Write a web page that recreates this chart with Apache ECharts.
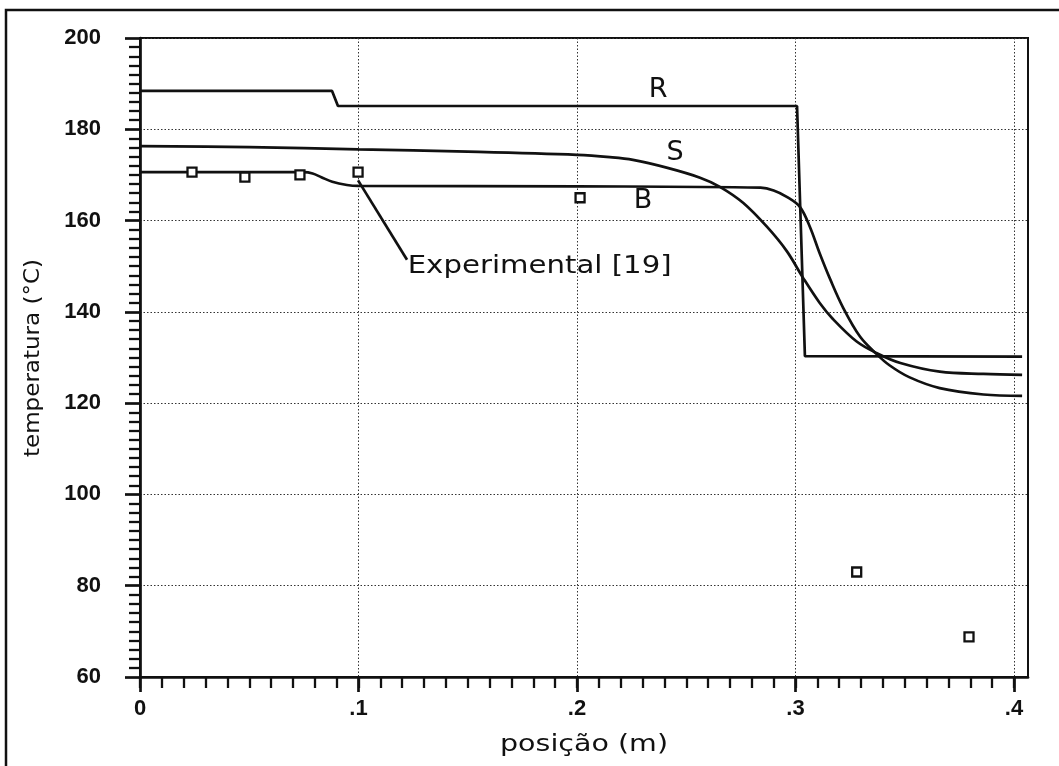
<!DOCTYPE html>
<html><head><meta charset="utf-8">
<script src="https://cdn.jsdelivr.net/npm/echarts@6.0.0/dist/echarts.min.js"></script>
<style>html,body{margin:0;padding:0;background:#fff}#c{width:1059px;height:766px}</style>
</head><body><div id="c"></div>
<script>
// ---- tick labels ----
const xTickValues = [0, 0.1, 0.2, 0.3, 0.4];
const xTickLabels = ['0', '.1', '.2', '.3', '.4'];
const yTickValues = [60, 80, 100, 120, 140, 160, 180, 200];

// ---- series R ----
const rX = [0, 0.0879, 0.0906, 0.3007, 0.3043, 0.4037];
const rY = [188.4, 188.4, 185.1, 185.1, 130.3, 130.2];

// ---- series S ----
const sX = [0, 0.05, 0.1, 0.15, 0.2, 0.215, 0.2256, 0.241, 0.2563, 0.2654, 0.276, 0.287, 0.296, 0.3034, 0.311, 0.317, 0.328, 0.337, 0.348, 0.366, 0.386, 0.4037];
const sY = [176.3, 176.1, 175.6, 175.1, 174.4, 173.9, 173.3, 171.6, 169.4, 167.4, 163.9, 158.6, 153.3, 147.5, 142.0, 138.5, 133.5, 131.0, 128.8, 126.9, 126.4, 126.2];

// ---- series B ----
const bX = [0, 0.075, 0.079, 0.083, 0.088, 0.0947, 0.1, 0.2, 0.284, 0.29, 0.296, 0.302, 0.3066, 0.311, 0.316, 0.3217, 0.3295, 0.337, 0.343, 0.352, 0.366, 0.386, 0.4037];
const bY = [170.6, 170.6, 170.3, 169.5, 168.5, 167.8, 167.6, 167.5, 167.2, 166.6, 165.2, 163.0, 158.6, 152.9, 147.0, 141.0, 134.6, 130.8, 128.3, 125.7, 123.3, 121.9, 121.6];

// ---- experimental points ----
const expX = [0.0238, 0.048, 0.0732, 0.0998, 0.2014, 0.328, 0.3794];
const expY = [170.6, 169.5, 170.0, 170.6, 165.0, 83.0, 68.8];

// ---- annotations (data coordinates) ----
const leaderX = [0.0998, 0.1222];
const leaderY = [168.8, 151.4];
const labelTexts = ['R', 'S', 'B', 'Experimental [19]'];
const labelX = [0.2371, 0.2449, 0.2302, 0.1225];
const labelY = [188.6, 174.8, 164.3, 150.0];

const zip = (a, b) => a.map((v, i) => [v, b[i]]);

const chart = echarts.init(document.getElementById('c'), null, {renderer: 'canvas'});
const lineStyle = {color: '#111', width: 2.7};
const xMinor = [];
for (let i = 0; i <= 40; i++) xMinor.push(i / 100);

const gridLine = {show: true, lineStyle: {type: [1.5, 2], color: '#333', width: 1}};
const tickFont = {color: '#111', fontFamily: 'Liberation Sans', fontWeight: 'bold', fontSize: 22};

chart.setOption({
  animation: false,
  backgroundColor: '#fff',
  grid: {left: 140, top: 38, right: 31, bottom: 89, show: true, borderColor: '#111', borderWidth: 2, backgroundColor: 'transparent'},
  xAxis: [{
    type: 'value', min: 0, max: 0.4064, interval: 0.1, position: 'bottom',
    axisLine: {lineStyle: {color: '#111', width: 2.7}},
    axisTick: {show: true, length: 15, lineStyle: {color: '#111', width: 2.7}, customValues: xTickValues},
    axisLabel: Object.assign({
      customValues: xTickValues, margin: 21,
      formatter: v => { const i = xTickValues.findIndex(t => Math.abs(t - v) < 1e-9); return i < 0 ? '' : xTickLabels[i]; }
    }, tickFont),
    splitLine: gridLine
  }, {
    type: 'value', min: 0, max: 0.4064, position: 'bottom',
    axisLine: {show: false},
    axisTick: {show: true, length: 11, lineStyle: {color: '#111', width: 2.3}, customValues: xMinor},
    axisLabel: {show: false},
    splitLine: {show: false}
  }],
  yAxis: {
    type: 'value', min: 60, max: 200, interval: 20,
    axisLine: {show: true, lineStyle: {color: '#111', width: 2.7}},
    axisTick: {show: true, length: 15, lineStyle: {color: '#111', width: 2.7}},
    minorTick: {show: true, splitNumber: 10, length: 11, lineStyle: {color: '#111', width: 2.3}},
    axisLabel: Object.assign({
      margin: 39,
      formatter: v => yTickValues.includes(v) ? String(v) : ''
    }, tickFont),
    splitLine: gridLine
  },
  series: [
    {name: 'R', type: 'line', data: zip(rX, rY), showSymbol: false, lineStyle, z: 3},
    {name: 'S', type: 'line', data: zip(sX, sY), showSymbol: false, smooth: 0.35, lineStyle, z: 3},
    {name: 'B', type: 'line', data: zip(bX, bY), showSymbol: false, smooth: 0.35, lineStyle, z: 3},
    {name: 'leader', type: 'line', data: zip(leaderX, leaderY), showSymbol: false, lineStyle, z: 3},
    {name: 'Experimental [19]', type: 'scatter', data: zip(expX, expY), symbol: 'rect', symbolSize: 9,
      itemStyle: {color: '#fff', borderColor: '#111', borderWidth: 2.3, opacity: 1}, z: 5}
  ]
});

// fit text to target width
const ctx = document.createElement('canvas').getContext('2d');
function scaleFor(text, font, target) {
  ctx.font = font;
  const w = ctx.measureText(text).width;
  return target ? target / w : 1;
}

const labelFonts = ['27px "DejaVu Sans"', '27px "DejaVu Sans"', '27px "DejaVu Sans"', '25px "DejaVu Sans"'];
const labelWidths = [0, 0, 0, 264];
const labelAlign = ['center', 'center', 'center', 'left'];

const graphics = labelTexts.map((t, i) => {
  const p = chart.convertToPixel({seriesIndex: 0}, [labelX[i], labelY[i]]);
  return {
    type: 'text', x: p[0], y: p[1], z: 10,
    scaleX: scaleFor(t, labelFonts[i], labelWidths[i]),
    style: {text: t, font: labelFonts[i], fill: '#111', align: labelAlign[i], verticalAlign: 'middle'}
  };
});

const xTitle = 'posição (m)', yTitle = 'temperatura (°C)';
const titleFont = '23px "DejaVu Sans"';
graphics.push({
  type: 'text', x: 584, y: 745, z: 10, scaleX: scaleFor(xTitle, titleFont, 168),
  style: {text: xTitle, font: titleFont, fill: '#111', align: 'center', verticalAlign: 'middle'}
});
graphics.push({
  type: 'text', x: 34, y: 358, z: 10, rotation: Math.PI / 2, scaleX: scaleFor(yTitle, '21px "DejaVu Sans"', 198),
  style: {text: yTitle, font: '21px "DejaVu Sans"', fill: '#111', align: 'center', verticalAlign: 'middle'}
});
// outer frame (left & top edges)
graphics.push({
  type: 'polyline', z: 10,
  shape: {points: [[6, 770], [6, 10], [1062, 10]]},
  style: {stroke: '#111', lineWidth: 2.5, fill: null}
});

chart.setOption({graphic: graphics});
</script>
</body></html>
